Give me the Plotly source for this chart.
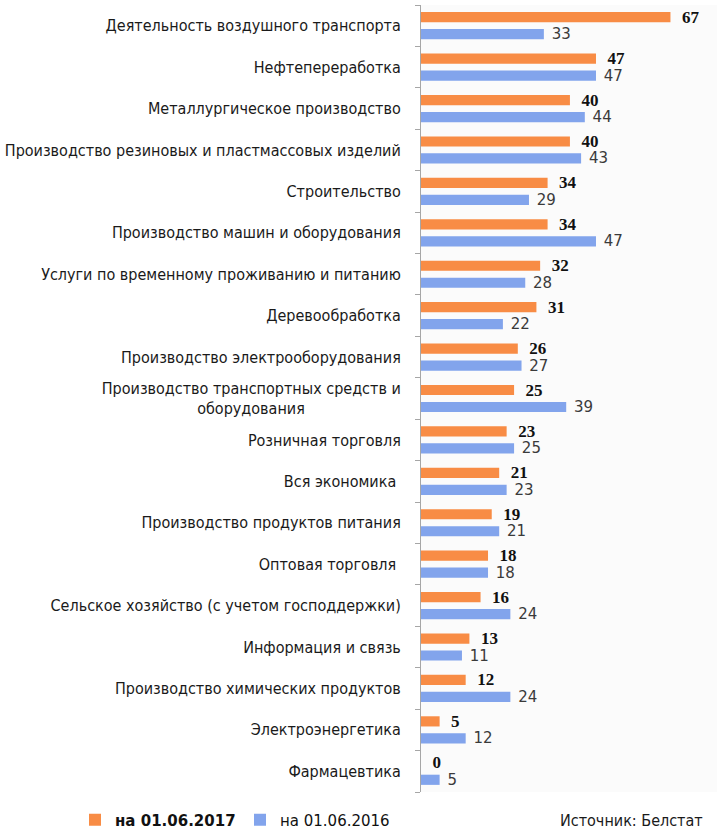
import plotly.graph_objects as go

categories = [
    "Деятельность воздушного транспорта",
    "Нефтепереработка",
    "Металлургическое производство",
    "Производство резиновых и пластмассовых изделий",
    "Строительство",
    "Производство машин и оборудования",
    "Услуги по временному проживанию и питанию",
    "Деревообработка",
    "Производство электрооборудования",
    "Производство транспортных средств и оборудования",
    "Розничная торговля",
    "Вся экономика",
    "Производство продуктов питания",
    "Оптовая торговля",
    "Сельское хозяйство (с учетом господдержки)",
    "Информация и связь",
    "Производство химических продуктов",
    "Электроэнергетика",
    "Фармацевтика",
]
tick_labels = [
    "Деятельность воздушного транспорта",
    "Нефтепереработка",
    "Металлургическое производство",
    "Производство резиновых и пластмассовых изделий",
    "Строительство",
    "Производство машин и оборудования",
    "Услуги по временному проживанию и питанию",
    "Деревообработка",
    "Производство электрооборудования",
    "Производство транспортных средств и<br>оборудования" + "\u00a0" * 21,
    "Розничная торговля",
    "Вся экономика\u00a0",
    "Производство продуктов питания",
    "Оптовая торговля\u00a0",
    "Сельское хозяйство (с учетом господдержки)",
    "Информация и связь",
    "Производство химических продуктов",
    "Электроэнергетика",
    "Фармацевтика",
]
values_2017 = [67, 47, 40, 40, 34, 34, 32, 31, 26, 25, 23, 21, 19, 18, 16, 13, 12, 5, 0]
values_2016 = [33, 47, 44, 43, 29, 47, 28, 22, 27, 39, 25, 23, 21, 18, 24, 11, 24, 12, 5]
series_names = ["<b>на 01.06.2017</b>", "на 01.06.2016"]
source_text = "Источник: Белстат"

ORANGE = "#F88C45"
BLUE = "#82A4EC"
COND = "DejaVu Sans Condensed, Liberation Sans Narrow, sans-serif"
LEGFONT = dict(family="DejaVu Sans, Verdana, sans-serif", size=15, color="#111111")

fig = go.Figure()
fig.add_trace(go.Bar(
    y=categories, x=values_2017, orientation="h", name=series_names[0],
    marker=dict(color=ORANGE, line=dict(width=0)),
    text=values_2017, texttemplate="\u00a0\u00a0<b>%{x}</b>", textposition="outside",
    textfont=dict(family="Liberation Serif, serif", size=17, color="#111111"),
    constraintext="none", cliponaxis=False, legend="legend",
))
fig.add_trace(go.Bar(
    y=categories, x=values_2016, orientation="h", name=series_names[1],
    marker=dict(color=BLUE, line=dict(width=0)),
    text=values_2016, texttemplate="\u00a0%{x}", textposition="outside",
    textfont=dict(family="DejaVu Sans, Verdana, sans-serif", size=15, color="#3a3a3a"),
    constraintext="none", cliponaxis=False, legend="legend2",
))

fig.update_layout(
    width=717, height=832,
    margin=dict(l=421, r=0, t=5, b=40),
    paper_bgcolor="white",
    plot_bgcolor="#fbfbfb",
    barmode="group",
    bargap=0.18,
    bargroupgap=0.4,
    showlegend=True,
    legend=dict(
        orientation="h", xref="container", yref="container",
        x=75 / 717, xanchor="left", y=0.0145, yanchor="middle",
        font=LEGFONT, itemwidth=30, bgcolor="rgba(0,0,0,0)",
    ),
    legend2=dict(
        orientation="h", xref="container", yref="container",
        x=240 / 717, xanchor="left", y=0.0145, yanchor="middle",
        font=LEGFONT, itemwidth=30, bgcolor="rgba(0,0,0,0)",
    ),
    xaxis=dict(range=[0, 79.5], visible=False, showgrid=False, zeroline=False),
    yaxis=dict(
        categoryorder="array", categoryarray=categories,
        tickmode="array", tickvals=categories, ticktext=tick_labels,
        autorange="reversed",
        showline=True, linecolor="#a6a6a6", linewidth=1,
        ticks="outside", tickson="boundaries", ticklen=5, tickcolor="#a6a6a6",
        ticklabelstandoff=16,
        tickfont=dict(family=COND, size=16, color="#1a1a1a"),
        showgrid=False, zeroline=False,
    ),
    annotations=[dict(
        text=source_text, xref="paper", yref="paper", x=0.96, y=-0.0356,
        xanchor="right", yanchor="middle", showarrow=False,
        font=dict(family=COND, size=16, color="#1a1a1a"),
    )],
)

fig.write_html("out.html", config={"displayModeBar": False},
               post_script="document.body.style.margin='0';")
